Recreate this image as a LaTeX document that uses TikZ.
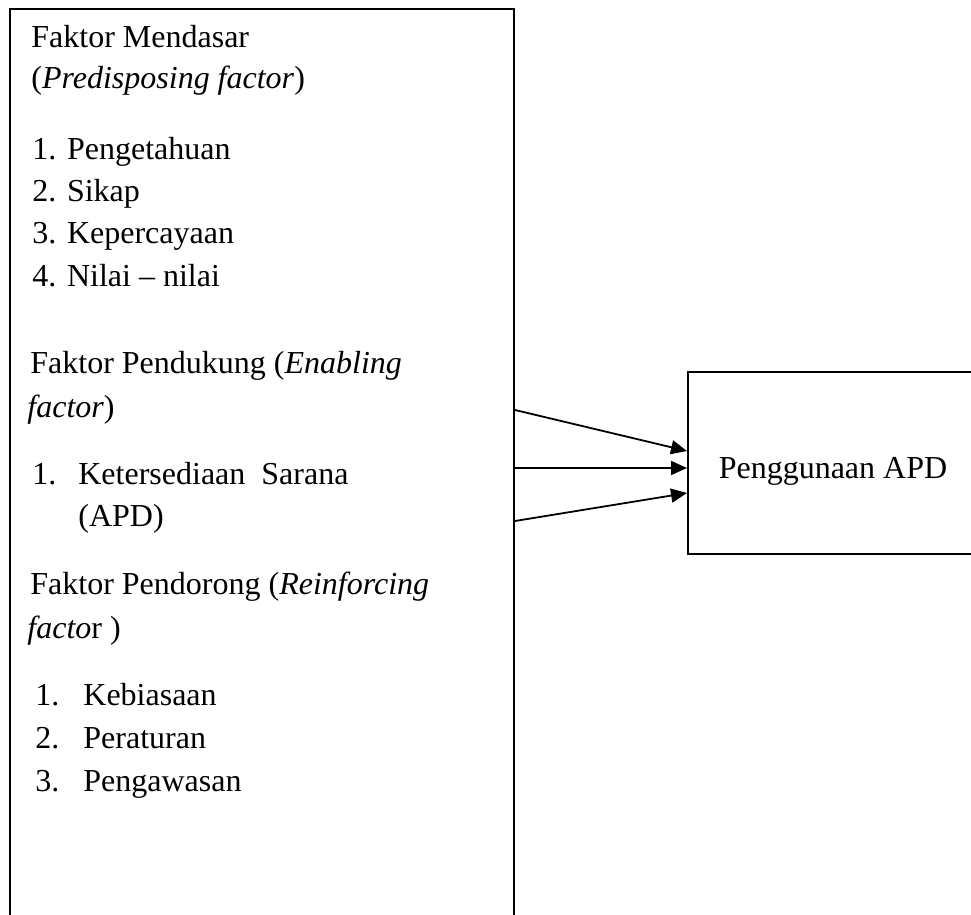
\documentclass[tikz,border=0pt]{standalone}
\usepackage{fontspec}
\setmainfont{Liberation Serif}
\usepackage{tikz}
\usetikzlibrary{arrows.meta}

\begin{document}
\begin{tikzpicture}[
    x=0.5pt, y=-0.5pt,
    kotak/.style={rectangle,draw,line width=1pt,inner sep=0pt},
    baris/.style={anchor=base west,inner sep=0pt,font=\fontsize{16}{21}\selectfont},
    panah/.style={-{Triangle[length=8pt,width=7pt]},line width=0.9pt}
  ]
  \useasboundingbox (0,0) rectangle (971,915);
  % kotak kiri (terbuka ke bawah) dan kotak kanan
  \node[kotak,anchor=north west,minimum width=252pt,minimum height=496pt] (faktor) at (9,8) {};
  \node[kotak,anchor=north west,minimum width=145pt,minimum height=91pt,
        text height=15pt,text depth=0pt,
        font=\fontsize{16}{21}\selectfont] (apd) at (687,371) {Penggunaan APD};
  % faktor mendasar
  \node[baris] (mendasar) at (31,48) {Faktor Mendasar};
  \node[baris] (mendasarEn) at (31,89) {(\textit{Predisposing factor})};
  \node[baris] (tahu) at (32,160) {1. Pengetahuan};
  \node[baris] (sikap) at (32,202) {2. Sikap};
  \node[baris] (percaya) at (32,244) {3. Kepercayaan};
  \node[baris] (nilai) at (32,286) {4. Nilai -- nilai};
  % faktor pendukung
  \node[baris] (dukung) at (30,373) {Faktor Pendukung (\textit{Enabling}};
  \node[baris] (dukungEn) at (27,417) {\textit{factor})};
  \node[baris] (sarana) at (32,484) {\makebox[23pt][l]{1.}Ketersediaan\ \ Sarana};
  \node[baris] (saranaApd) at (78,526) {(APD)};
  % faktor pendorong
  \node[baris] (dorong) at (30,594) {Faktor Pendorong (\textit{Reinforcing}};
  \node[baris] (dorongEn) at (27,638) {\textit{facto}r )};
  \node[baris] (biasa) at (35,705) {\makebox[24pt][l]{1.}Kebiasaan};
  \node[baris] (atur) at (35,748) {\makebox[24pt][l]{2.}Peraturan};
  \node[baris] (awas) at (35,791) {\makebox[24pt][l]{3.}Pengawasan};
  % panah ke penggunaan APD
  \coordinate (s1) at (faktor.east |- 0,410);
  \coordinate (s2) at (faktor.east |- 0,468);
  \coordinate (s3) at (faktor.east |- 0,521);
  \coordinate (e1) at (apd.west |- 0,451);
  \coordinate (e2) at (apd.west |- 0,468);
  \coordinate (e3) at (apd.west |- 0,493);
  \draw[panah] (s1) -- (e1);
  \draw[panah] (s2) -- (e2);
  \draw[panah] (s3) -- (e3);
\end{tikzpicture}
\end{document}
